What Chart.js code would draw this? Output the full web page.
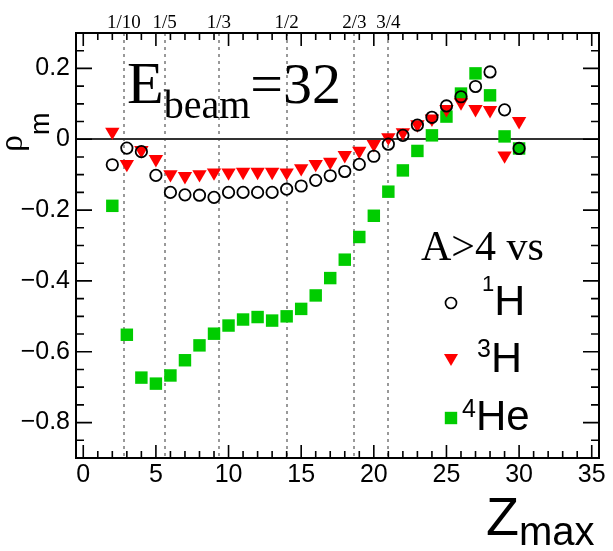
<!DOCTYPE html>
<html>
<head>
<meta charset="utf-8">
<script src="https://cdn.jsdelivr.net/npm/chart.js@4.4.1/dist/chart.umd.min.js"></script>
<style>
  html, body { margin: 0; padding: 0; background: #fff; }
  #wrap { width: 613px; height: 551px; position: relative; }
</style>
</head>
<body>
<div id="wrap"><canvas id="rho-chart"></canvas></div>
<script>
// Z_max on the x axis
var zMax = [2, 3, 4, 5, 6, 7, 8, 9, 10, 11, 12, 13, 14, 15, 16,
            17, 18, 19, 20, 21, 22, 23, 24, 25, 26, 27, 28, 29, 30];

// rho_m of A>4 vs 1H, 3H, 4He
var rhoH1 = [-0.072, -0.025, -0.035, -0.102, -0.150, -0.157, -0.158, -0.164, -0.150, -0.150,
             -0.150, -0.150, -0.141, -0.132, -0.116, -0.103, -0.091, -0.071, -0.048, -0.014,
              0.011,  0.040,  0.062,  0.094,  0.120,  0.149,  0.190,  0.083, -0.026];
var rhoH3 = [ 0.021, -0.070, -0.031, -0.056, -0.099, -0.104, -0.099, -0.094, -0.094, -0.092,
             -0.092, -0.092, -0.094, -0.082, -0.070, -0.064, -0.045, -0.033, -0.014,  0.005,
              0.019,  0.042,  0.058,  0.085,  0.104,  0.085,  0.082, -0.046,  0.051];
var rhoHe4 = [-0.188, -0.552, -0.673, -0.690, -0.667, -0.624, -0.582, -0.549, -0.526, -0.509,
              -0.502, -0.512, -0.500, -0.479, -0.441, -0.392, -0.340, -0.276, -0.216, -0.148,
              -0.088, -0.033,  0.011,  0.064,  0.129,  0.186,  0.124,  0.008, -0.026];

// axis ticks
var xTicks = [0, 5, 10, 15, 20, 25, 30, 35];
var yTicks = [-0.8, -0.6, -0.4, -0.2, 0, 0.2];
var yTickLabels = ['\u22120.8', '\u22120.6', '\u22120.4', '\u22120.2', '0', '0.2'];

// dotted guides at fractions of the projectile charge
var fractionLabels = ['1/10', '1/5', '1/3', '1/2', '2/3', '3/4'];
var fractions = [1 / 10, 1 / 5, 1 / 3, 1 / 2, 2 / 3, 3 / 4];
var zProjectile = 28;

var SANS = '"Liberation Sans", Arial, sans-serif';
var SERIF = '"Liberation Serif", "Times New Roman", serif';
var GREEN = '#00cc00';
var RED = '#ff0000';

function points(ys) {
  return zMax.map(function (z, i) { return { x: z, y: ys[i] }; });
}

// draws a run of text pieces one after another: [text, font, baselineShift]
function drawRun(ctx, parts, x, y) {
  parts.forEach(function (p) {
    ctx.font = p[1];
    ctx.fillText(p[0], x, y + (p[2] || 0));
    x += ctx.measureText(p[0]).width;
  });
}

function drawMarker(ctx, kind, x, y) {
  ctx.save();
  if (kind === 'circle') {
    ctx.strokeStyle = '#000'; ctx.lineWidth = 1.7;
    ctx.beginPath(); ctx.arc(x, y, 5.5, 0, Math.PI * 2); ctx.stroke();
  } else if (kind === 'triangle') {
    ctx.fillStyle = RED;
    ctx.beginPath();
    ctx.moveTo(x - 7, y - 4); ctx.lineTo(x + 7, y - 4); ctx.lineTo(x, y + 8);
    ctx.closePath(); ctx.fill();
  } else {
    ctx.fillStyle = GREEN;
    ctx.fillRect(x - 6.2, y - 6.2, 12.4, 12.4);
  }
  ctx.restore();
}

var rootFrame = {
  id: 'rootFrame',
  beforeDatasetsDraw: function (chart) {
    var ctx = chart.ctx, a = chart.chartArea;
    var xs = chart.scales.x, ys = chart.scales.y;
    ctx.save();
    ctx.strokeStyle = '#999';
    ctx.lineWidth = 2;
    ctx.setLineDash([3, 4]);
    fractions.forEach(function (f) {
      var px = Math.round(xs.getPixelForValue(f * zProjectile));
      ctx.beginPath(); ctx.moveTo(px, a.top); ctx.lineTo(px, a.bottom); ctx.stroke();
    });
    ctx.setLineDash([]);
    // zero line
    var y0 = Math.round(ys.getPixelForValue(0));
    ctx.strokeStyle = '#333';
    ctx.beginPath(); ctx.moveTo(a.left, y0); ctx.lineTo(a.right, y0); ctx.stroke();
    ctx.restore();
  },
  afterDraw: function (chart) {
    var ctx = chart.ctx, a = chart.chartArea;
    var xs = chart.scales.x, ys = chart.scales.y;
    ctx.save();
    ctx.strokeStyle = '#000';
    ctx.lineWidth = 2;
    ctx.strokeRect(a.left, a.top, a.right - a.left, a.bottom - a.top);

    // inward ticks, x every 1, y every 0.05
    ctx.lineWidth = 1.6;
    ctx.beginPath();
    for (var i = 0; i <= 35; i++) {
      var px = xs.getPixelForValue(i);
      var len = i % 5 === 0 ? 13 : 7;
      ctx.moveTo(px, a.bottom); ctx.lineTo(px, a.bottom - len);
      ctx.moveTo(px, a.top); ctx.lineTo(px, a.top + len);
    }
    for (var j = -18; j <= 6; j++) {
      var py = ys.getPixelForValue(j * 0.05);
      var ylen = j % 4 === 0 ? 16 : 8;
      ctx.moveTo(a.left, py); ctx.lineTo(a.left + ylen, py);
      ctx.moveTo(a.right, py); ctx.lineTo(a.right - ylen, py);
    }
    ctx.stroke();

    ctx.fillStyle = '#000';
    ctx.textBaseline = 'alphabetic';

    // fraction labels above the frame
    ctx.font = '19px ' + SERIF;
    ctx.textAlign = 'center';
    fractions.forEach(function (f, k) {
      ctx.fillText(fractionLabels[k], xs.getPixelForValue(f * zProjectile), 28);
    });
    ctx.textAlign = 'left';

    // beam energy
    drawRun(ctx, [
      ['E', '60px ' + SERIF, 0],
      ['beam', '40px ' + SERIF, 15],
      ['=32', '58px ' + SERIF, 0]
    ], 127, 103);

    // axis titles
    drawRun(ctx, [['Z', '54px ' + SANS, 0], ['max', '40px ' + SANS, 10]], 486, 535);
    ctx.save();
    ctx.translate(22, 152);
    ctx.rotate(-Math.PI / 2);
    drawRun(ctx, [['\u03c1', '34px ' + SERIF, 0], ['m', '27px ' + SANS, 27]], 0, 0);
    ctx.restore();

    // legend
    ctx.font = '42px ' + SERIF;
    ctx.fillText('A>4 vs', 421, 260);
    drawMarker(ctx, 'circle', 451, 303);
    drawRun(ctx, [['1', '22px ' + SANS, -24], ['H', '43px ' + SANS, 0]], 482, 315);
    drawMarker(ctx, 'triangle', 451, 358);
    drawRun(ctx, [['3', '25px ' + SANS, -15], ['H', '43px ' + SANS, 0]], 477, 372);
    drawMarker(ctx, 'square', 451, 418);
    drawRun(ctx, [['4', '25px ' + SANS, -13], ['He', '42px ' + SANS, 0]], 462, 430);
    ctx.restore();
  }
};

var ctx = document.getElementById('rho-chart').getContext('2d');
var chart = new Chart(ctx, {
  type: 'scatter',
  data: {
    datasets: [{
      label: '1H',
      data: points(rhoH1),
      pointStyle: 'circle',
      pointRadius: 5.7,
      pointBorderWidth: 1.8,
      pointBorderColor: '#000',
      pointBackgroundColor: 'rgba(0,0,0,0)',
      order: 0
    }, {
      label: '3H',
      data: points(rhoH3),
      pointStyle: 'triangle',
      pointRotation: 180,
      pointRadius: 8.3,
      pointBorderWidth: 0,
      pointBackgroundColor: RED,
      order: 1
    }, {
      label: '4He',
      data: points(rhoHe4),
      pointStyle: 'rect',
      pointRadius: 8.8,
      pointBorderWidth: 0,
      pointBackgroundColor: GREEN,
      order: 2
    }]
  },
  options: {
    responsive: true,
    maintainAspectRatio: false,
    animation: false,
    layout: { padding: { top: 33, right: 14, left: 0, bottom: 0 } },
    plugins: {
      legend: { display: false },
      tooltip: { enabled: false }
    },
    scales: {
      x: {
        type: 'linear',
        min: -0.5,
        max: 35.5,
        afterBuildTicks: function (s) { s.ticks = xTicks.map(function (v) { return { value: v }; }); },
        afterFit: function (s) { s.height = 93; },
        grid: { display: false, drawTicks: false },
        border: { display: false },
        ticks: {
          autoSkip: false,
          maxRotation: 0,
          padding: 2,
          color: '#000',
          font: { family: SANS, size: 25 }
        }
      },
      y: {
        type: 'linear',
        min: -0.9,
        max: 0.3,
        afterBuildTicks: function (s) { s.ticks = yTicks.map(function (v) { return { value: v }; }); },
        afterFit: function (s) { s.width = 76; },
        grid: { display: false, drawTicks: false },
        border: { display: false },
        ticks: {
          padding: 6,
          color: '#000',
          font: { family: SANS, size: 25 },
          callback: function (v, i) { return yTickLabels[i]; }
        }
      }
    }
  },
  plugins: [rootFrame]
});
</script>
</body>
</html>
